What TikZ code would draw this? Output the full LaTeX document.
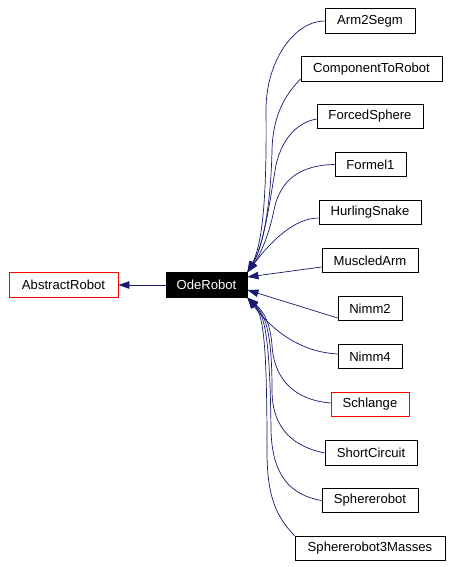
\documentclass[tikz,border=0pt]{standalone}
\usepackage{fontspec}
\setmainfont{Liberation Sans}
\usetikzlibrary{arrows.meta}
\definecolor{edgeblue}{HTML}{191970}
\begin{document}
\begin{tikzpicture}[x=1pt,y=-1pt,
  box/.style={draw=black,line width=0.9pt,fill=white,inner sep=0pt,minimum height=24.5pt,
    font=\fontsize{13.1}{15}\selectfont,text=black},
  redbox/.style={box,draw=red},
  darkbox/.style={box,fill=black,text=white,draw=black},
  edge/.style={draw=edgeblue,line width=0.7pt,-{Triangle[length=11pt,width=7.5pt]}}
]
\path[use as bounding box,fill=white] (0,0) rectangle (452,567);

\node[redbox,minimum width=109pt] (AbstractRobot) at (63.5,285) {AbstractRobot};
\node[darkbox,minimum width=81pt] (OdeRobot) at (206.5,285) {OdeRobot};

\node[box,minimum width=90pt] (Arm2Segm) at (370,21) {Arm2Segm};
\node[box,minimum width=141pt] (ComponentToRobot) at (371.5,69) {ComponentToRobot};
\node[box,minimum width=106pt] (ForcedSphere) at (370,116.5) {ForcedSphere};
\node[box,minimum width=71pt] (Formel1) at (370.5,164.5) {Formel1};
\node[box,minimum width=102pt] (HurlingSnake) at (370,212.5) {HurlingSnake};
\node[box,minimum width=96pt] (MuscledArm) at (370,260.5) {MuscledArm};
\node[box,minimum width=64pt] (Nimm2) at (370,308.5) {Nimm2};
\node[box,minimum width=64pt] (Nimm4) at (370,356.5) {Nimm4};
\node[redbox,minimum width=78pt] (Schlange) at (370,404.5) {Schlange};
\node[box,minimum width=92pt] (ShortCircuit) at (371,453) {ShortCircuit};
\node[box,minimum width=96pt] (Sphererobot) at (370,500.5) {Sphererobot};
\node[box,minimum width=150pt] (Sphererobot3Masses) at (370,548.5) {Sphererobot3Masses};

\draw[edge] (OdeRobot.west) -- (AbstractRobot.east);

% upper group
\draw[edge] (Arm2Segm.west) .. controls (295,21) and (266,60) .. (266,110)
  .. controls (267,200) and (262,245) .. (OdeRobot.north east);
\draw[edge] ([yshift=-10pt]ComponentToRobot.west) .. controls (285,95) and (273,115) .. (272,150)
  .. controls (271,200) and (264,245) .. (OdeRobot.north east);
\draw[edge] ([yshift=-2.5pt]ForcedSphere.west) .. controls (300,122) and (283,135) .. (276,165)
  .. controls (270,200) and (264,245) .. (OdeRobot.north east);
\draw[edge] (Formel1.west) .. controls (300,165) and (280,180) .. (274,210)
  .. controls (268,240) and (258,258) .. (OdeRobot.north east);
\draw[edge] ([yshift=-5.5pt]HurlingSnake.west) .. controls (295,218) and (272,240) .. (OdeRobot.north east);
\draw[edge] ([yshift=-6.5pt]MuscledArm.west) -- ([yshift=8pt]OdeRobot.east);
\draw[edge] ([yshift=-9.5pt]Nimm2.west) -- ([yshift=-5pt]OdeRobot.east);

% lower group
\draw[edge] ([yshift=2.5pt]Nimm4.west) .. controls (300,352) and (272,330) .. (OdeRobot.south east);
\draw[edge] ([yshift=1.5pt]Schlange.west) .. controls (295,400) and (274,380) .. (272,345)
  .. controls (270,320) and (262,310) .. (OdeRobot.south east);
\draw[edge] (ShortCircuit.west) .. controls (295,447) and (272,430) .. (272,390)
  .. controls (272,330) and (265,315) .. (OdeRobot.south east);
\draw[edge] (Sphererobot.west) .. controls (290,495) and (272,475) .. (271,430)
  .. controls (270,340) and (265,315) .. (OdeRobot.south east);
\draw[edge] (Sphererobot3Masses.north west) .. controls (275,515) and (267,495) .. (267,450)
  .. controls (267,340) and (263,315) .. (OdeRobot.south east);
\end{tikzpicture}
\end{document}
